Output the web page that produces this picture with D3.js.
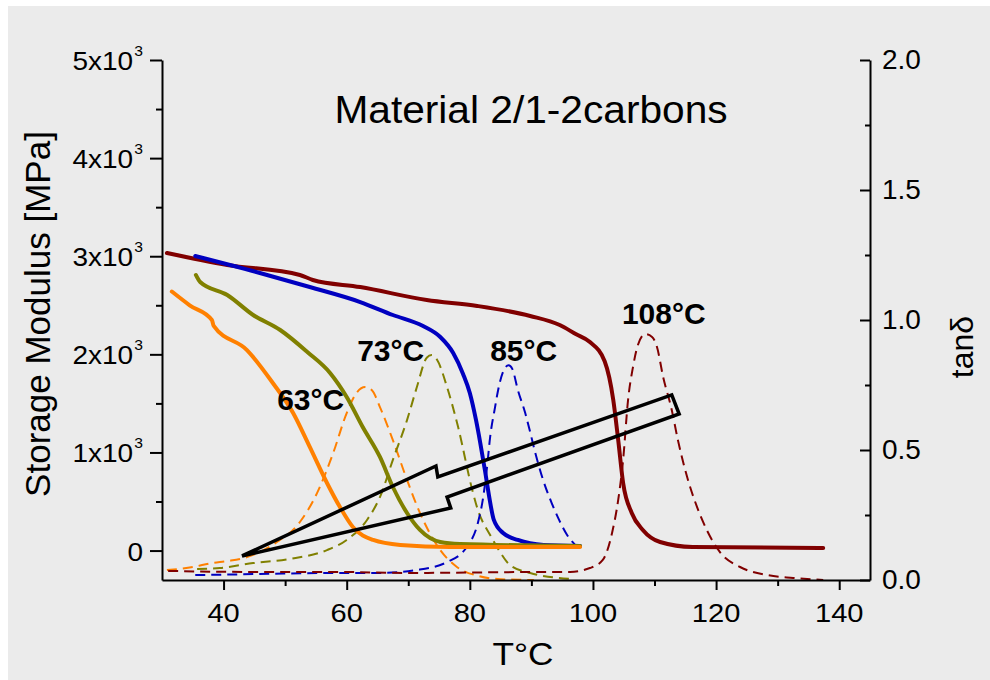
<!DOCTYPE html>
<html>
<head>
<meta charset="utf-8">
<script src="https://cdn.jsdelivr.net/npm/d3@7"></script>
<style>
body{margin:0;background:#fff;}
svg{display:block;font-family:"Liberation Sans",Arial,Helvetica,sans-serif;}
</style>
</head>
<body>
<svg id="chart" width="990" height="680"></svg>
<script>
/* storage modulus curves (T in °C, E' in MPa) */
var modOrange = [[31.6,2640],[34.5,2500],[38.1,2350],[38.4,2290],[43.8,2044],[48.0,1708],[51.3,1402],[54.0,1056],[56.8,689],[58.9,444],[61.0,240],[64.3,108],[68.7,57],[76.8,36],[97.9,36]];
var modOlive = [[35.5,2809],[36.2,2737],[40.6,2605],[44.8,2401],[49.2,2248],[53.6,2024],[57.3,1810],[60.0,1565],[62.6,1259],[65.4,954],[67.5,648],[69.8,383],[71.9,210],[75.2,87],[78.4,67],[97.9,47]];
var modBlue = [[35.4,3002],[45.9,2829],[54.0,2686],[62.2,2533],[67.5,2401],[72.4,2289],[75.2,2177],[77.3,2014],[78.9,1800],[80.0,1606],[81.0,1331],[81.7,1096],[82.5,801],[83.1,566],[83.9,312],[85.4,179],[87.8,108],[92.0,57],[97.9,47]];
var modRed = [[30.8,3033],[40.6,2911],[52.4,2809],[54.5,2758],[62.2,2686],[73.0,2554],[81.2,2493],[89.8,2391],[94.6,2299],[97.2,2207],[99.5,2126],[101.9,1930],[103.3,1535],[104.1,1127],[104.9,689],[106.3,383],[108.1,210],[110.9,87],[116.2,36],[137.4,26]];

/* tan delta curves (T in °C, tanδ) */
var tanOrange = [[30.8,0.038],[35.0,0.05],[38.1,0.065],[40.7,0.073],[43.8,0.088],[48.4,0.142],[52.4,0.223],[55.2,0.335],[57.8,0.488],[60.0,0.642],[61.7,0.723],[63.0,0.742],[64.1,0.73],[65.4,0.665],[67.5,0.538],[69.8,0.385],[71.9,0.258],[75.2,0.115],[77.9,0.05],[81.5,0.015],[85.0,0.003],[90.4,0.0]];
var tanOlive = [[35.7,0.042],[39.4,0.046],[44.8,0.065],[50.8,0.081],[56.8,0.115],[60.0,0.154],[63.3,0.231],[65.4,0.319],[67.5,0.462],[69.8,0.615],[71.4,0.742],[73.0,0.855],[73.8,0.865],[74.7,0.846],[76.3,0.742],[78.1,0.588],[80.4,0.346],[81.3,0.27],[83.3,0.173],[84.9,0.108],[86.5,0.058],[89.8,0.027],[96.6,0.004]];
var tanBlue = [[35.4,0.019],[45.9,0.023],[57.3,0.027],[65.4,0.027],[71.3,0.038],[76.3,0.069],[79.5,0.127],[81.3,0.219],[82.1,0.308],[82.8,0.435],[83.3,0.55],[84.1,0.665],[84.6,0.731],[85.7,0.815],[86.3,0.826],[86.9,0.812],[87.8,0.731],[89.0,0.642],[89.8,0.569],[90.6,0.492],[91.9,0.385],[93.3,0.296],[94.5,0.231],[95.8,0.173],[97.1,0.135]];
var tanRed = [[31.0,0.035],[44.3,0.031],[58.9,0.031],[69.6,0.027],[92.9,0.031],[96.3,0.031],[99.5,0.046],[101.6,0.077],[103.1,0.181],[104.1,0.308],[104.9,0.462],[105.7,0.692],[106.5,0.819],[107.3,0.904],[108.5,0.946],[109.6,0.935],[110.4,0.896],[111.4,0.781],[112.8,0.654],[113.8,0.538],[115.3,0.396],[116.9,0.281],[118.5,0.192],[120.6,0.108],[123.9,0.05],[128.3,0.019],[132.5,0.008],[137.4,0.0]];

/* peak labels, anchored in (T, tanδ) */
var peakText = ["63°C","73°C","85°C","108°C"];
var peakT = [48.7,61.7,83.3,104.7];
var peakTan = [0.654,0.842,0.842,0.985];

/* arrow outline (T, E') */
var arrowT = [43.0,74.5,74.8,112.8,114.0,76.3,76.9];
var arrowE = [-55,862,750,1586,1392,546,434];

/* ticks */
var xTicks = [40,60,80,100,120,140];
var xMinor = [50,70,90,110,130];
var leftTicks = [0,1000,2000,3000,4000,5000];
var leftLabels = ["0","1x10","2x10","3x10","4x10","5x10"];
var leftMinor = [500,1500,2500,3500,4500];
var rightTicks = [0,0.5,1.0,1.5,2.0];
var rightLabels = ["0.0","0.5","1.0","1.5","2.0"];
var rightMinor = [0.25,0.75,1.25,1.75];

var svg = d3.select("#chart");
svg.append("rect").attr("x",8).attr("y",6).attr("width",982).attr("height",674).attr("fill","#ebebeb");

var x = d3.scaleLinear().domain([30,145]).range([162,870]);
var yL = d3.scaleLinear().domain([-300,5000]).range([580,60]);
var yR = d3.scaleLinear().domain([0,2]).range([580,60]);

/* stretched text helper (reference text is a bit wider than Arial) */
function stext(parent, px, py, sx){
    return parent.append("g").attr("transform","translate("+px+","+py+") scale("+sx+",1)").append("text");
}

var lineR = d3.line().x(function(d){return x(d[0]);}).y(function(d){return yR(d[1]);}).curve(d3.curveMonotoneX);
var lineL = d3.line().x(function(d){return x(d[0]);}).y(function(d){return yL(d[1]);}).curve(d3.curveMonotoneX);

/* tan delta dashed */
var tanSeries = [[tanOrange,"#ff8000"],[tanOlive,"#808000"],[tanBlue,"#0000c0"],[tanRed,"#800000"]];
tanSeries.forEach(function(s){
    svg.append("path").attr("d",lineR(s[0])).attr("fill","none").attr("stroke",s[1])
    .attr("stroke-width",2).attr("stroke-dasharray","10,6");
});

/* storage modulus solid */
var modSeries = [[modRed,"#800000"],[modBlue,"#0000c0"],[modOlive,"#808000"],[modOrange,"#ff8000"]];
modSeries.forEach(function(s){
    svg.append("path").attr("d",lineL(s[0])).attr("fill","none").attr("stroke",s[1])
    .attr("stroke-width",4).attr("stroke-linejoin","round").attr("stroke-linecap","round");
});

/* arrow */
var arrowPts = arrowT.map(function(t,i){return [x(t), yL(arrowE[i])];});
svg.append("path").attr("d","M"+arrowPts.join("L")+"Z").attr("fill","none")
.attr("stroke","#000").attr("stroke-width",3.5).attr("stroke-linejoin","miter");

/* axes */
svg.append("g").attr("transform","translate(0,580)")
.call(d3.axisBottom(x).tickValues(xTicks).tickSize(10).tickSizeOuter(0).tickFormat(""));
svg.append("g").attr("transform","translate(0,580)")
.call(d3.axisBottom(x).tickValues(xMinor).tickSize(6).tickSizeOuter(0).tickFormat(""))
.select(".domain").remove();

svg.append("g").attr("transform","translate(162,0)")
.call(d3.axisLeft(yL).tickValues(leftTicks).tickSize(12).tickSizeOuter(0).tickFormat(""));
svg.append("g").attr("transform","translate(162,0)")
.call(d3.axisLeft(yL).tickValues(leftMinor).tickSize(6).tickSizeOuter(0).tickFormat(""))
.select(".domain").remove();

svg.append("g").attr("transform","translate(870,0)")
.call(d3.axisLeft(yR).tickValues(rightTicks).tickSize(10).tickSizeOuter(0).tickFormat(""));
svg.append("g").attr("transform","translate(870,0)")
.call(d3.axisLeft(yR).tickValues(rightMinor).tickSize(5).tickSizeOuter(0).tickFormat(""))
.select(".domain").remove();

svg.selectAll(".domain").attr("stroke","#000").attr("stroke-width",2);
svg.selectAll(".tick line").attr("stroke","#000").attr("stroke-width",2);

/* tick labels */
xTicks.forEach(function(t){
    stext(svg, x(t), 622, 1.12).attr("text-anchor","middle").attr("font-size",26).text(t);
});
leftTicks.forEach(function(v,i){
    var tx = stext(svg, 143, yL(v)+10, 1.12).attr("text-anchor","end").attr("font-size",25);
    tx.append("tspan").text(leftLabels[i]);
    if(v != 0){
        tx.append("tspan").attr("font-size",14).attr("dy",-14).attr("dx",1).text("3");
    }
});
rightTicks.forEach(function(v,i){
    svg.append("text").attr("x",882).attr("y",yR(v)+9).attr("font-size",28).text(rightLabels[i]);
});

/* axis titles */
stext(svg, 523, 665, 1.1).attr("text-anchor","middle").attr("font-size",32).text("T°C");
svg.append("text").attr("transform","translate(50,314) rotate(-90)").attr("text-anchor","middle")
.attr("font-size",35).text("Storage Modulus [MPa]");
svg.append("text").attr("transform","translate(973,347) rotate(-90)").attr("text-anchor","middle")
.attr("font-size",32).text("tanδ");

/* title */
stext(svg, 531, 123, 1.07).attr("text-anchor","middle").attr("font-size",38).text("Material 2/1-2carbons");

/* peak labels */
peakText.forEach(function(t,i){
    svg.append("text").attr("x",x(peakT[i])).attr("y",yR(peakTan[i]))
    .attr("font-size",30).attr("font-weight","bold").text(t);
});
</script>
</body>
</html>
